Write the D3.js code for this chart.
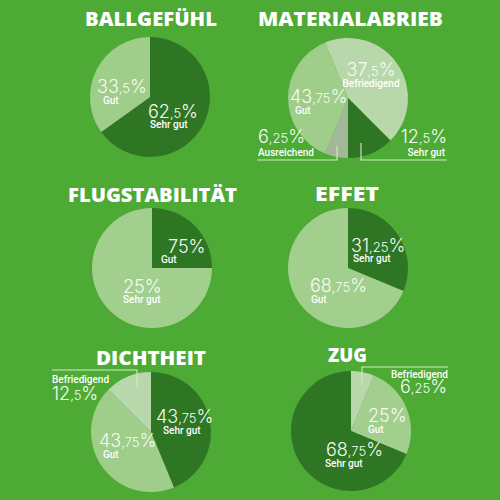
<!DOCTYPE html>
<html><head><meta charset="utf-8">
<script src="https://cdn.jsdelivr.net/npm/d3@7"></script>
<style>body{margin:0;background:#4caa35}svg{display:block}</style>
</head><body><svg id="c" width="500" height="500"></svg>
<script>
// ---------- DATA ----------
const titles = ["BALLGEFÜHL", "MATERIALABRIEB", "FLUGSTABILITÄT", "EFFET", "DICHTHEIT", "ZUG"];

const ballCategories = ["Sehr gut", "Gut"];
const ballValues = [62.5, 33.5];
const ballShares = [62.5, 33.5];

const abriebCategories = ["Befriedigend", "Sehr gut", "Ausreichend", "Gut"];
const abriebValues = [37.5, 12.5, 6.25, 43.75];
const abriebShares = [43.75, 12.5, 6.25, 37.5]; // slice sizes as drawn in the picture

const flugCategories = ["Gut", "Sehr gut"];
const flugValues = [75, 25];
const flugShares = [25, 75]; // slice sizes as drawn in the picture

const effetCategories = ["Sehr gut", "Gut"];
const effetValues = [31.25, 68.75];
const effetShares = [31.25, 68.75];

const dichtCategories = ["Sehr gut", "Gut", "Befriedigend"];
const dichtValues = [43.75, 43.75, 12.5];
const dichtShares = [43.75, 43.75, 12.5];

const zugCategories = ["Befriedigend", "Gut", "Sehr gut"];
const zugValues = [6.25, 25, 68.75];
const zugShares = [6.25, 25, 68.75];

// ---------- LAYOUT / STYLE ----------
const C = {dark: "#2e7524", gut: "#9fcd8a", bef: "#b8d7aa", aus: "#a3b799", light: "#a2cf8d"};
const R = 60;
const charts = [
  {title: titles[0], cats: ballCategories, vals: ballValues, shares: ballShares,
   cx: 150, cy: 97, tl: 85, tr: 217, ty: 26, start: 0, colors: [C.dark, C.gut],
   labels: [{n: [-2, 21], t: [0, 31], a: "start"}, {n: [-53, -4], t: [-47, 7], a: "start"}]},
  {title: titles[1], cats: abriebCategories, vals: abriebValues, shares: abriebShares,
   cx: 348, cy: 98, tl: 258, tr: 443, ty: 26, start: -Math.PI / 8, colors: [C.bef, C.dark, C.aus, C.gut],
   labels: [{n: [23, -22], t: [23, -11], a: "middle"}, {n: [99, 45], t: [97, 58], a: "end"},
            {n: [-90, 45], t: [-90, 58], a: "start"}, {n: [-58, 5], t: [-53, 16], a: "start"}],
   leaders: [[[-91, 62], [-11, 62], [-11, 48]], [[13, 45], [13, 62], [99, 62]]]},
  {title: titles[2], cats: flugCategories, vals: flugValues, shares: flugShares,
   cx: 152, cy: 268, tl: 68, tr: 237, ty: 202, start: 0, colors: [C.dark, C.light],
   labels: [{n: [16, -15], t: [9, -5], a: "start"}, {n: [-29, 25], t: [-29, 35], a: "start"}]},
  {title: titles[3], cats: effetCategories, vals: effetValues, shares: effetShares,
   cx: 348, cy: 268, tl: 315, tr: 379, ty: 201, start: 0, colors: [C.dark, C.light],
   labels: [{n: [3, -16], t: [5, -6], a: "start"}, {n: [-38, 24], t: [-37, 35], a: "start"}]},
  {title: titles[4], cats: dichtCategories, vals: dichtValues, shares: dichtShares,
   cx: 151, cy: 432, tl: 96, tr: 206, ty: 365, start: 0, colors: [C.dark, C.gut, C.bef],
   labels: [{n: [5, -9], t: [12, 2], a: "start"}, {n: [-52, 15], t: [-48, 26], a: "start"},
            {n: [-99, -32], t: [-99, -49], a: "start", nameFirst: true}],
   leaders: [[[-99, -62], [-14, -62], [-14, -44]]]},
  {title: titles[5], cats: zugCategories, vals: zugValues, shares: zugShares,
   cx: 351, cy: 431, tl: 328, tr: 367, ty: 362, start: 0, colors: [C.bef, C.light, C.dark],
   labels: [{n: [96, -38], t: [97, -53], a: "end", nameFirst: true}, {n: [17, -9], t: [17, 2], a: "start"},
            {n: [-25, 25], t: [-26, 36], a: "start"}],
   leaders: [[[11, -48], [11, -64], [97, -64]]]}
];

// ---------- DRAW ----------
const svg = d3.select("#c");
svg.append("rect").attr("width", 500).attr("height", 500).attr("fill", "#4caa35");

const arc = d3.arc().innerRadius(0).outerRadius(R);
const line = d3.line();

function splitNum(v) {
  const s = String(v).split(".");
  return {i: s[0], d: s[1] ? "," + s[1] : ""};
}

charts.forEach(ch => {
  const g = svg.append("g").attr("transform", `translate(${ch.cx},${ch.cy})`);
  const pie = d3.pie().sort(null).value(d => d.share)
    .startAngle(ch.start).endAngle(ch.start + 2 * Math.PI);
  const rows = ch.cats.map((c, i) => ({cat: c, val: ch.vals[i], share: ch.shares[i], i}));
  const arcs = pie(rows);

  g.selectAll("path.slice").data(arcs).join("path")
    .attr("class", "slice")
    .attr("d", arc)
    .attr("fill", d => ch.colors[d.data.i]);

  (ch.leaders || []).forEach(pts => {
    g.append("path").attr("d", line(pts)).attr("fill", "none")
      .attr("stroke", "#d3ecc6").attr("stroke-width", 1.1);
  });

  arcs.forEach(d => {
    const L = ch.labels[d.data.i];
    const p = splitNum(d.data.val);
    const t = g.append("text").attr("text-anchor", L.a).attr("fill", "#f7fcf3");
    const addName = () => t.append("tspan").attr("x", L.t[0]).attr("y", L.t[1])
      .style("font-family", "Roboto, sans-serif").style("font-size", "10px").style("font-weight", 500)
      .attr("fill", "#ffffff").text(d.data.cat);
    const addNum = () => {
      const numStyle = s => s.style("font-family", "Inter, 'DejaVu Sans', sans-serif").style("font-weight", 300);
      t.append("tspan").attr("x", L.n[0]).attr("y", L.n[1]).call(numStyle).style("font-size", "18px").text(p.i);
      if (p.d) t.append("tspan").call(numStyle).style("font-size", "13px").text(p.d);
      t.append("tspan").call(numStyle).style("font-size", "18px").text("%");
    };
    if (L.nameFirst) { addName(); addNum(); } else { addNum(); addName(); }
  });

  svg.append("text")
    .attr("x", (ch.tl + ch.tr) / 2).attr("y", ch.ty)
    .attr("text-anchor", "middle")
    .attr("textLength", ch.tr - ch.tl).attr("lengthAdjust", "spacingAndGlyphs")
    .attr("fill", "#ffffff")
    .style("font-family", "'Open Sans', sans-serif").style("font-weight", 800).style("font-size", "19px")
    .text(ch.title);
});
</script></body></html>
